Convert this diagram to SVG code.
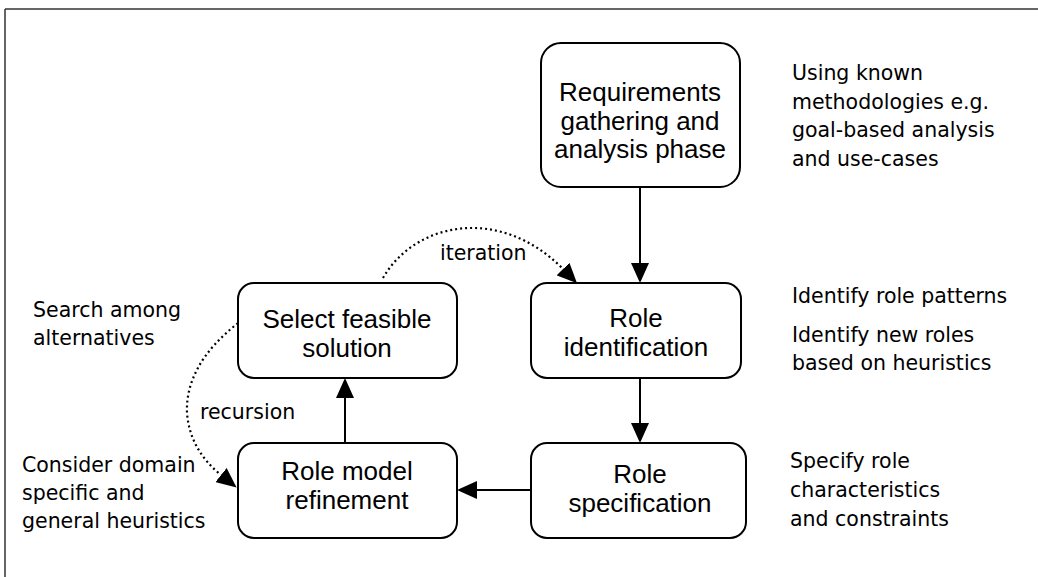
<svg xmlns="http://www.w3.org/2000/svg" width="1038" height="577" viewBox="0 0 1038 577">
  <style>
    .box { fill: #ffffff; stroke: #000000; stroke-width: 2; }
    .node { font-family: "Liberation Sans", Arial, sans-serif; font-size: 26px; fill: #000000; text-anchor: middle; }
    .note { font-family: "DejaVu Sans", Verdana, sans-serif; font-size: 20.5px; fill: #000000; }
    .solid { fill: none; stroke: #000000; stroke-width: 2; }
    .dotted { fill: none; stroke: #000000; stroke-width: 2.2; stroke-dasharray: 2 3; }
    .label { font-family: "DejaVu Sans", Verdana, sans-serif; font-size: 20.5px; fill: #000000; }
  </style>
  <defs>
    <marker id="head" markerUnits="userSpaceOnUse" viewBox="0 0 20 18" refX="0" refY="9" markerWidth="20" markerHeight="18" orient="auto">
      <path d="M0,0 L20,9 L0,18 Z" fill="#000000"/>
    </marker>
  </defs>

  <rect width="1038" height="577" fill="#ffffff"/>

  <!-- page frame -->
  <g id="frame" stroke="#333333" stroke-width="1.5" fill="none">
    <line x1="5" y1="9" x2="1038" y2="9"/>
    <line x1="5" y1="9" x2="5" y2="577"/>
  </g>

  <!-- connectors -->
  <g id="connectors">
    <line class="solid" x1="640" y1="187" x2="640" y2="263" marker-end="url(#head)"/>
    <line class="solid" x1="640" y1="378" x2="640" y2="423" marker-end="url(#head)"/>
    <line class="solid" x1="531" y1="490" x2="477" y2="490" marker-end="url(#head)"/>
    <line class="solid" x1="345" y1="443" x2="345" y2="398" marker-end="url(#head)"/>
    <path class="dotted" d="M383,278 C415,222 500,205 563,269" marker-end="url(#head)"/>
    <path class="dotted" d="M238,323 Q185,365 187,413 Q190,450 221,475" marker-end="url(#head)"/>
    <text class="label" x="440" y="260">iteration</text>
    <text class="label" x="200" y="419">recursion</text>
  </g>

  <g id="requirements">
    <rect class="box" x="541" y="43" width="199" height="144" rx="20" ry="20"/>
    <text class="node" x="640" y="101">Requirements</text>
    <text class="node" x="640" y="129.5">gathering and</text>
    <text class="node" x="640" y="158">analysis phase</text>
  </g>

  <g id="role-identification">
    <rect class="box" x="531" y="283" width="210" height="95" rx="16" ry="16"/>
    <text class="node" x="636" y="327">Role</text>
    <text class="node" x="636" y="356">identification</text>
  </g>

  <g id="select-feasible-solution">
    <rect class="box" x="238" y="283" width="219" height="95" rx="16" ry="16"/>
    <text class="node" x="347" y="328">Select feasible</text>
    <text class="node" x="347" y="357">solution</text>
  </g>

  <g id="role-model-refinement">
    <rect class="box" x="238" y="443" width="219" height="95" rx="16" ry="16"/>
    <text class="node" x="347" y="480">Role model</text>
    <text class="node" x="347" y="509">refinement</text>
  </g>

  <g id="role-specification">
    <rect class="box" x="531" y="443" width="215" height="95" rx="16" ry="16"/>
    <text class="node" x="640" y="483">Role</text>
    <text class="node" x="640" y="512">specification</text>
  </g>

  <!-- annotations -->
  <g id="notes">
    <text class="note" x="792" y="80">Using known</text>
    <text class="note" x="792" y="108.5">methodologies e.g.</text>
    <text class="note" x="792" y="137">goal-based analysis</text>
    <text class="note" x="792" y="165.5">and use-cases</text>

    <text class="note" x="792" y="303">Identify role patterns</text>
    <text class="note" x="792" y="342">Identify new roles</text>
    <text class="note" x="792" y="370">based on heuristics</text>

    <text class="note" x="790" y="468">Specify role</text>
    <text class="note" x="790" y="497">characteristics</text>
    <text class="note" x="790" y="526">and constraints</text>

    <text class="note" x="33" y="317">Search among</text>
    <text class="note" x="33" y="345">alternatives</text>

    <text class="note" x="22" y="472">Consider domain</text>
    <text class="note" x="22" y="500">specific and</text>
    <text class="note" x="22" y="528">general heuristics</text>
  </g>
</svg>
